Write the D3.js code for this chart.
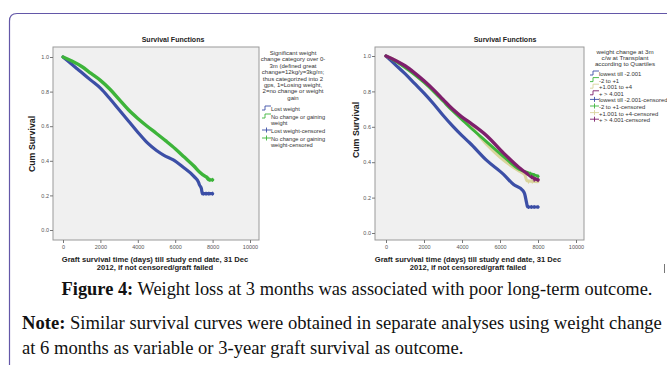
<!DOCTYPE html>
<html>
<head>
<meta charset="utf-8">
<script src="https://cdn.jsdelivr.net/npm/d3@7"></script>
<style>
  body { margin: 0; background: #fff; }
  svg { display: block; }
</style>
</head>
<body>
<div id="chart"></div>
<script>
// x ticks (days) and y ticks (cum survival)
const xTicks = [0, 2000, 4000, 6000, 8000, 10000];
const yTicks = [0.0, 0.2, 0.4, 0.6, 0.8, 1.0];

// left panel: weight category 0-3m
const lostDays = [0, 500, 1000, 1500, 2000, 2500, 3000, 3500, 4000, 4500, 5000, 5400, 5900, 6400, 7000, 7250, 7300, 7400, 7450, 8000];
const lostSurv = [1.0, 0.955, 0.91, 0.865, 0.82, 0.76, 0.695, 0.63, 0.565, 0.505, 0.46, 0.432, 0.405, 0.365, 0.31, 0.275, 0.26, 0.24, 0.21, 0.21];
const gainDays = [0, 500, 1000, 1500, 2000, 2500, 3000, 3500, 4000, 4500, 5000, 5500, 6000, 6500, 7000, 7300, 7600, 7700, 7800, 8000];
const gainSurv = [1.0, 0.975, 0.945, 0.905, 0.865, 0.815, 0.755, 0.695, 0.645, 0.6, 0.558, 0.515, 0.47, 0.42, 0.37, 0.335, 0.31, 0.305, 0.29, 0.29];
const lostCensDays = [7500, 7650, 7800, 8000];
const lostCensSurv = [0.21, 0.21, 0.21, 0.21];
const gainCensDays = [7700, 7850, 8000];
const gainCensSurv = [0.3, 0.29, 0.29];

// right panel: quartiles
const q1Days = [0, 500, 1000, 1500, 2000, 2500, 3000, 3500, 4000, 4400, 5300, 6200, 6700, 7200, 7300, 7400, 7450, 8000];
const q1Surv = [1.0, 0.95, 0.9, 0.845, 0.79, 0.73, 0.665, 0.605, 0.55, 0.51, 0.41, 0.33, 0.275, 0.24, 0.22, 0.17, 0.147, 0.147];
const q2Days = [0, 500, 1000, 1500, 2000, 2500, 3000, 3500, 4000, 4400, 5300, 6200, 7000, 7500, 7900, 8000];
const q2Surv = [1.0, 0.97, 0.935, 0.895, 0.85, 0.8, 0.745, 0.69, 0.64, 0.6, 0.515, 0.43, 0.36, 0.34, 0.325, 0.32];
const q3Days = [0, 500, 1000, 1500, 2000, 2500, 3000, 3500, 4000, 4400, 5300, 6200, 7000, 7300, 7420, 8000];
const q3Surv = [1.0, 0.975, 0.94, 0.9, 0.855, 0.805, 0.75, 0.7, 0.65, 0.61, 0.5, 0.41, 0.35, 0.33, 0.295, 0.29];
const q4Days = [0, 500, 1000, 1500, 2000, 2500, 3000, 3500, 4000, 4400, 5300, 6200, 7000, 7500, 7700, 8000];
const q4Surv = [1.0, 0.975, 0.945, 0.905, 0.86, 0.81, 0.755, 0.7, 0.655, 0.625, 0.55, 0.45, 0.37, 0.33, 0.315, 0.3];
const q1CensDays = [7500, 7650, 7800, 8000];
const q1CensSurv = [0.147, 0.147, 0.147, 0.147];
const q2CensDays = [7600, 7800, 8000];
const q2CensSurv = [0.335, 0.325, 0.32];
const q3CensDays = [7500, 7700];
const q3CensSurv = [0.29, 0.29];
const q4CensDays = [7650, 7800, 8000];
const q4CensSurv = [0.315, 0.3, 0.3];

const leftLegendTitle = ["Significant weight", "change category over 0-", "3m (defined great",
  "change=12kg/y=3kg/m;", "thus categorized into 2", "gps, 1=Losing weight,", "2=no change or weight", "gain"];
const leftLegendItems = [["Lost weight"], ["No change or gaining", "weight"], ["Lost weight-censored"], ["No change or gaining", "weight-censored"]];
const rightLegendTitle = ["weight change at 3m", "c/w at Transplant", "according to Quartiles"];
const rightLegendItems = ["lowest till -2.001", "-2 to +1", "+1.001 to +4", "+ > 4.001",
  "lowest till -2.001-censored", "-2 to +1-censored", "+1.001 to +4-censored", "+ > 4.001-censored"];

const BLUE = "#3c4fa6", GREEN = "#3db43a", TAN = "#d9d49c", PURPLE = "#7e1f6c";
const FONT = "'Liberation Sans', Arial, sans-serif";

const width = 667, height = 365;
const svg = d3.select("#chart").append("svg")
  .attr("width", width).attr("height", height)
  .style("font-family", FONT);

// page frame (rounded purple border)
svg.append("path")
  .attr("d", "M9.5,365 V21 Q9.5,13.5 17,13.5 H667")
  .attr("fill", "none").attr("stroke", "#6357a8").attr("stroke-width", 1.2);
svg.append("line").attr("x1", 664.5).attr("x2", 664.5).attr("y1", 264).attr("y2", 273)
  .attr("stroke", "#777").attr("stroke-width", 1);

const zip = (xs, ys) => xs.map((d, i) => ({ t: d, s: ys[i] }));

const drawPanel = (p) => {
  const xScale = d3.scaleLinear().domain([0, 10000]).range(p.xRange);
  const yScale = d3.scaleLinear().domain([0, 1]).range(p.yRange);
  const g = svg.append("g");

  g.append("rect")
    .attr("x", p.frame[0]).attr("y", p.frame[1])
    .attr("width", p.frame[2] - p.frame[0]).attr("height", p.frame[3] - p.frame[1])
    .attr("fill", "#f0f0f0").attr("stroke", "#9a9a9a").attr("stroke-width", 1);

  const yAxis = g.append("g")
    .attr("transform", `translate(${p.frame[0]},0)`)
    .call(d3.axisLeft(yScale).tickValues(yTicks).tickFormat(d3.format(".1f")).tickSize(3).tickPadding(1));
  const xAxis = g.append("g")
    .attr("transform", `translate(0,${p.frame[3]})`)
    .call(d3.axisBottom(xScale).tickValues(xTicks).tickFormat(d3.format("d")).tickSize(3).tickPadding(2));
  [xAxis, yAxis].forEach((a) => {
    a.select(".domain").remove();
    a.selectAll("line").attr("stroke", "#777");
    a.selectAll("text").attr("fill", "#555").style("font-size", "5.5px").style("font-family", FONT);
  });

  g.append("text")
    .attr("x", p.titleX).attr("y", 42)
    .attr("text-anchor", "middle").style("font-size", "7px").style("font-weight", "bold")
    .attr("fill", "#222").text("Survival Functions");

  g.append("text")
    .attr("transform", `translate(${p.yLabelX},${p.yLabelY}) rotate(-90)`)
    .attr("text-anchor", "middle").style("font-size", "8.8px").style("font-weight", "bold")
    .attr("fill", "#222").text("Cum Survival");

  ["Graft survival time (days) till study end date, 31 Dec", "2012, if not censored/graft failed"].forEach((t, i) => {
    g.append("text")
      .attr("x", p.xLabelX).attr("y", 262 + i * 8)
      .attr("text-anchor", "middle").style("font-size", "7.6px").style("font-weight", "bold")
      .attr("fill", "#222").text(t);
  });

  const lineGen = d3.line().x((d) => xScale(d.t)).y((d) => yScale(d.s)).curve(d3.curveMonotoneX);

  p.series.forEach((s) => {
    g.append("path")
      .datum(zip(s.days, s.surv))
      .attr("fill", "none").attr("stroke", s.color)
      .attr("stroke-width", s.w).attr("stroke-linejoin", "round").attr("stroke-linecap", "round")
      .attr("d", lineGen);
  });

  p.censored.forEach((c) => {
    const pts = zip(c.days, c.surv);
    g.append("path")
      .datum(pts)
      .attr("fill", "none").attr("stroke", c.color).attr("stroke-width", 1)
      .attr("d", d3.line().x((d) => xScale(d.t)).y((d) => yScale(d.s)).curve(d3.curveStepAfter));
    g.selectAll(null).data(pts).join("path")
      .attr("d", (d) => `M${xScale(d.t)},${yScale(d.s) - 2}v4M${xScale(d.t) - 1.5},${yScale(d.s)}h3`)
      .attr("stroke", c.color).attr("stroke-width", 1);
  });
};

// legend glyphs
const stepGlyph = (g, x, y, color) => g.append("path")
  .attr("d", `M${x},${y + 2}h3v-4h6`).attr("fill", "none").attr("stroke", color).attr("stroke-width", 0.9);
const censGlyph = (g, x, y, color) => g.append("path")
  .attr("d", `M${x},${y}h9M${x + 4.5},${y - 2.5}v5`).attr("fill", "none").attr("stroke", color).attr("stroke-width", 0.9);

drawPanel({
  xRange: [63, 250], yRange: [230, 57], frame: [53, 47, 259, 240],
  titleX: 173, yLabelX: 35, yLabelY: 144, xLabelX: 155,
  series: [
    { days: lostDays, surv: lostSurv, color: BLUE, w: 3.2 },
    { days: gainDays, surv: gainSurv, color: GREEN, w: 3.4 },
  ],
  censored: [
    { days: lostCensDays, surv: lostCensSurv, color: BLUE },
    { days: gainCensDays, surv: gainCensSurv, color: GREEN },
  ],
});

drawPanel({
  xRange: [386, 576], yRange: [233, 56], frame: [375, 47, 584, 240],
  titleX: 505, yLabelX: 359, yLabelY: 130, xLabelX: 468,
  series: [
    { days: q1Days, surv: q1Surv, color: BLUE, w: 3.2 },
    { days: q3Days, surv: q3Surv, color: TAN, w: 3 },
    { days: q2Days, surv: q2Surv, color: GREEN, w: 2.8 },
    { days: q4Days, surv: q4Surv, color: PURPLE, w: 3.4 },
  ],
  censored: [
    { days: q1CensDays, surv: q1CensSurv, color: BLUE },
    { days: q3CensDays, surv: q3CensSurv, color: TAN },
    { days: q2CensDays, surv: q2CensSurv, color: GREEN },
    { days: q4CensDays, surv: q4CensSurv, color: PURPLE },
  ],
});

// left legend
const legL = svg.append("g").style("font-size", "6px").attr("fill", "#333");
leftLegendTitle.forEach((t, i) => {
  legL.append("text").attr("x", 293).attr("y", 55 + i * 6.4).attr("text-anchor", "middle").text(t);
});
const leftColors = [BLUE, GREEN, BLUE, GREEN];
let ly = 110;
leftLegendItems.forEach((lines, i) => {
  if (i < 2) stepGlyph(legL, 262, ly - 2, leftColors[i]);
  else censGlyph(legL, 262, ly - 2, leftColors[i]);
  lines.forEach((t, j) => {
    legL.append("text").attr("x", 271).attr("y", ly + 1 + j * 6).style("font-size", "5.7px").text(t);
  });
  ly += lines.length > 1 ? 14 : 8;
});

// right legend
const legR = svg.append("g").style("font-size", "6.2px").attr("fill", "#333");
rightLegendTitle.forEach((t, i) => {
  legR.append("text").attr("x", 625).attr("y", 54 + i * 6.2).attr("text-anchor", "middle").text(t);
});
const rightColors = [BLUE, GREEN, TAN, PURPLE, BLUE, GREEN, TAN, PURPLE];
rightLegendItems.forEach((t, i) => {
  const y = 75 + i * 6.6;
  if (i < 4) stepGlyph(legR, 590, y - 2, rightColors[i]);
  else censGlyph(legR, 590, y - 2, rightColors[i]);
  legR.append("text").attr("x", 599).attr("y", y + 1).style("font-size", "5.9px").text(t);
});

// caption and note
const serif = "'Liberation Serif', 'Times New Roman', serif";
const cap = svg.append("text").attr("x", 357).attr("y", 295).attr("text-anchor", "middle")
  .style("font-family", serif).style("font-size", "18.4px").attr("fill", "#111");
cap.append("tspan").style("font-weight", "bold").text("Figure 4:");
cap.append("tspan").text(" Weight loss at 3 months was associated with poor long-term outcome.");

const note = svg.append("text").attr("x", 22).attr("y", 329)
  .style("font-family", serif).style("font-size", "18.6px").attr("fill", "#111");
note.append("tspan").style("font-weight", "bold").text("Note:");
note.append("tspan").text(" Similar survival curves were obtained in separate analyses using weight change");
svg.append("text").attr("x", 22).attr("y", 354)
  .style("font-family", serif).style("font-size", "18.6px").attr("fill", "#111")
  .text("at 6 months as variable or 3-year graft survival as outcome.");
</script>
</body>
</html>
